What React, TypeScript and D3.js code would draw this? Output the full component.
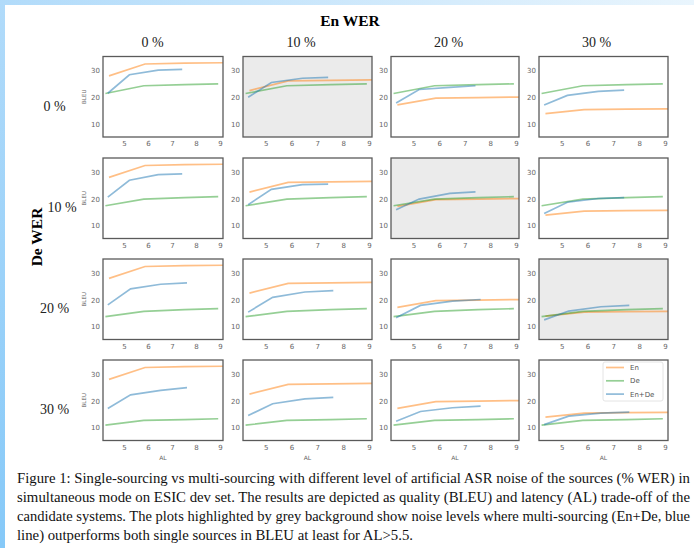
import React from 'react';
import * as d3 from 'd3';

// AL (latency) points of each system
const AL_EN = [4.35, 5.85, 7.5, 9.3];
const AL_DE = [4.2, 5.8, 7.5, 8.9];
const AL_ENDE_LOW = [4.3, 5.2, 6.4, 7.4]; // De WER 0 %, 10 %
const AL_ENDE_HIGH = [4.3, 5.25, 6.5, 7.6]; // De WER 20 %, 30 %

// BLEU of En source, per En WER column
const BLEU_EN = [
  [28.1, 32.5, 32.8, 33.0],
  [22.6, 26.2, 26.4, 26.6],
  [17.3, 19.8, 20.0, 20.2],
  [14.0, 15.5, 15.7, 15.8],
];

// BLEU of De source, per De WER row
const BLEU_DE = [
  [21.5, 24.4, 24.8, 25.1],
  [17.5, 20.0, 20.5, 20.9],
  [13.8, 15.8, 16.4, 16.8],
  [11.0, 12.8, 13.1, 13.4],
];

// BLEU of En+De, [row][col]
const BLEU_ENDE = [
  [[21.6, 28.5, 30.2, 30.5], [20.1, 25.6, 27.2, 27.5], [18.0, 23.0, 23.8, 24.4], [17.2, 20.8, 22.3, 22.8]],
  [[20.7, 27.0, 29.1, 29.4], [17.9, 23.6, 25.4, 25.6], [16.0, 20.0, 22.1, 22.7], [14.6, 18.8, 20.2, 20.5]],
  [[18.2, 24.2, 25.9, 26.4], [15.5, 21.0, 23.0, 23.5], [13.4, 18.0, 19.6, 20.2], [12.6, 15.9, 17.5, 18.0]],
  [[17.2, 22.3, 24.0, 25.0], [14.6, 19.0, 20.8, 21.4], [12.5, 16.1, 17.5, 18.1], [11.2, 14.4, 15.5, 15.9]],
];

const WER_LEVELS = ['0 %', '10 %', '20 %', '30 %'];
const X_TICKS = [5, 6, 7, 8, 9];
const Y_TICKS = [10, 20, 30];
const GREY_CELLS = ['0-1', '1-2', '2-3'];
const SERIES = ['En', 'De', 'En+De'];

const CAPTION = [
  'Figure 1: Single-sourcing vs multi-sourcing with different level of artificial ASR noise of the sources (% WER) in',
  'simultaneous mode on ESIC dev set. The results are depicted as quality (BLEU) and latency (AL) trade-off of the',
  'candidate systems. The plots highlighted by grey background show noise levels where multi-sourcing (En+De, blue',
  'line) outperforms both single sources in BLEU at least for AL>5.5.',
];
const CAPTION_WIDTH = [673, 673, 673, 396];

// layout
const W = 694;
const H = 548;
const COL_LEFT = [103, 243, 391, 539];
const COL_RIGHT = [223, 372, 519, 668];
const ROW_TOP = [56.5, 158, 259, 360];
const PLOT_H = 80.5;
const COL_TITLE_X = [152.5, 301, 448.5, 596.5];
const ROW_LABEL_X = [54.5, 62, 54.5, 54.5];
const COLORS = { En: '#ff7f0e', De: '#2ca02c', 'En+De': '#1f77b4' };
const SANS = 'DejaVu Sans, sans-serif';
const SERIF = 'Liberation Serif, Times New Roman, serif';

const line = d3.line<[number, number]>();

function Panel({ r, c }: { r: number; c: number }) {
  const x = d3.scaleLinear().domain([4.1, 9.1]).range([COL_LEFT[c], COL_RIGHT[c]]);
  const y = d3.scaleLinear().domain([5.3, 35.3]).range([ROW_TOP[r] + PLOT_H, ROW_TOP[r]]);
  const grey = GREY_CELLS.includes(`${r}-${c}`);
  const id = `clip-${r}-${c}`;
  const alEnDe = r < 2 ? AL_ENDE_LOW : AL_ENDE_HIGH;
  const series = [
    { name: 'En', al: AL_EN, bleu: BLEU_EN[c] },
    { name: 'De', al: AL_DE, bleu: BLEU_DE[r] },
    { name: 'En+De', al: alEnDe, bleu: BLEU_ENDE[r][c] },
  ];
  const x0 = COL_LEFT[c];
  const w = COL_RIGHT[c] - COL_LEFT[c];
  const y0 = ROW_TOP[r];
  const bottom = y0 + PLOT_H;

  return (
    <g>
      <clipPath id={id}>
        <rect x={x0} y={y0} width={w} height={PLOT_H} />
      </clipPath>
      <rect x={x0} y={y0} width={w} height={PLOT_H} fill={grey ? '#ebebeb' : '#fff'} />
      <g clipPath={`url(#${id})`}>
        {series.map(s => (
          <path
            key={s.name}
            d={line(s.al.map((a, i) => [x(a), y(s.bleu[i])]))!}
            fill="none"
            stroke={COLORS[s.name]}
            strokeOpacity={0.5}
            strokeWidth={1.7}
          />
        ))}
      </g>
      <rect x={x0} y={y0} width={w} height={PLOT_H} fill="none" stroke="#5a5a5a" strokeWidth={1.3} />
      {X_TICKS.map(t => (
        <text key={t} x={x(t)} y={bottom + 9} fontSize={7} fill="#666" textAnchor="middle" fontFamily={SANS}>
          {t}
        </text>
      ))}
      {Y_TICKS.map(t => (
        <text key={t} x={x0 - 3} y={y(t) + 2.5} fontSize={7} fill="#666" textAnchor="end" fontFamily={SANS}>
          {t}
        </text>
      ))}
      {c === 0 && (
        <text
          transform={`translate(${x0 - 19},${y0 + PLOT_H / 2}) rotate(-90)`}
          fontSize={5.5}
          fill="#666"
          textAnchor="middle"
          dy="0.35em"
          fontFamily={SANS}
        >
          BLEU
        </text>
      )}
      {r === 3 && (
        <text x={(x0 + COL_RIGHT[c]) / 2} y={bottom + 19} fontSize={6} fill="#666" textAnchor="middle" fontFamily={SANS}>
          AL
        </text>
      )}
      {r === 3 && c === 3 && (
        <g>
          <rect x={603} y={362} width={60} height={39} rx={2} fill="#fff" stroke="#ddd" strokeWidth={0.8} />
          {SERIES.map((name, i) => (
            <g key={name}>
              <line x1={606} x2={624} y1={367.5 + i * 13.3} y2={367.5 + i * 13.3} stroke={COLORS[name]} strokeOpacity={0.5} strokeWidth={1.7} />
              <text x={630} y={367.5 + i * 13.3 + 2.5} fontSize={7} fill="#555" fontFamily={SANS}>
                {name}
              </text>
            </g>
          ))}
        </g>
      )}
    </g>
  );
}

export default function App() {
  return (
    <svg width={W} height={H} style={{ position: 'absolute', left: 0, top: 0, background: '#fff' }}>
      <defs>
        <linearGradient id="topBar" x1="0" x2="1" y1="0" y2="0">
          <stop offset="0" stopColor="#b1dbfa" />
          <stop offset="1" stopColor="#e9f5fd" />
        </linearGradient>
        <linearGradient id="leftBar" x1="0" x2="0" y1="0" y2="1">
          <stop offset="0" stopColor="#b1dbfa" />
          <stop offset="1" stopColor="#86c9f8" />
        </linearGradient>
      </defs>
      <rect x={0} y={0} width={W} height={H} fill="#fff" />
      <rect x={0} y={0} width={W} height={5} fill="url(#topBar)" />
      <rect x={0} y={0} width={5} height={H} fill="url(#leftBar)" />

      <text x={350} y={26} fontSize={15.5} fontWeight="bold" textAnchor="middle" fontFamily={SERIF}>
        En WER
      </text>
      {WER_LEVELS.map((lab, i) => (
        <text key={`ct${i}`} x={COL_TITLE_X[i]} y={47} fontSize={14} textAnchor="middle" fontFamily={SERIF} fill="#222">
          {lab}
        </text>
      ))}
      {WER_LEVELS.map((lab, i) => (
        <text key={`rl${i}`} x={ROW_LABEL_X[i]} y={ROW_TOP[i] + PLOT_H / 2 + 14} fontSize={14} textAnchor="middle" fontFamily={SERIF} fill="#222">
          {lab}
        </text>
      ))}
      <text transform="translate(36.5,237) rotate(-90)" fontSize={15.5} fontWeight="bold" textAnchor="middle" dy="0.35em" fontFamily={SERIF}>
        De WER
      </text>

      {[0, 1, 2, 3].map(r => [0, 1, 2, 3].map(c => <Panel key={`${r}-${c}`} r={r} c={c} />))}

      {CAPTION.map((t, i) => (
        <text
          key={`cap${i}`}
          x={17}
          y={483 + i * 19}
          fontSize={14.5}
          fontFamily={SERIF}
          fill="#111"
          textLength={CAPTION_WIDTH[i]}
          lengthAdjust="spacingAndGlyphs"
        >
          {t}
        </text>
      ))}
    </svg>
  );
}
